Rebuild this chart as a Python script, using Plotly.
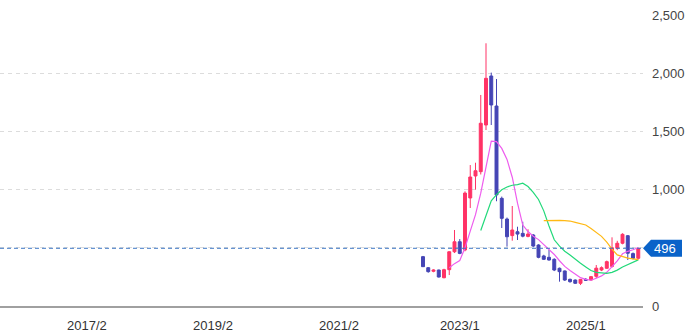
import plotly.graph_objects as go
import pandas as pd

# Monthly candles (2022/6 .. 2025/11)
months = ["2022/6", "2022/7", "2022/8", "2022/9", "2022/10", "2022/11", "2022/12",
          "2023/1", "2023/2", "2023/3", "2023/4", "2023/5", "2023/6", "2023/7", "2023/8",
          "2023/9", "2023/10", "2023/11", "2023/12",
          "2024/1", "2024/2", "2024/3", "2024/4", "2024/5", "2024/6", "2024/7", "2024/8",
          "2024/9", "2024/10", "2024/11", "2024/12",
          "2025/1", "2025/2", "2025/3", "2025/4", "2025/5", "2025/6", "2025/7", "2025/8",
          "2025/9", "2025/10", "2025/11"]
opens  = [424, 329, 298, 309, 243, 312, 466, 552, 481, 928, 1117, 1154, 1555, 1976, 1718,
          925, 747, 605, 638, 624, 598, 610, 524, 430, 418, 401, 324, 301, 229, 223, 195,
          229, 223, 255, 309, 324, 340, 496, 539, 604, 450, 410]
highs  = [430, 335, 315, 312, 320, 470, 653, 575, 985, 1211, 1231, 1813, 2257, 2005, 1950,
          940, 760, 859, 681, 724, 659, 618, 530, 440, 481, 410, 330, 305, 235, 228, 232,
          240, 258, 352, 340, 390, 590, 560, 625, 610, 460, 500]
lows   = [335, 286, 290, 245, 238, 266, 455, 445, 470, 842, 1000, 1130, 1512, 1555, 900,
          670, 510, 561, 567, 590, 590, 505, 410, 395, 390, 300, 209, 215, 200, 190, 180,
          215, 218, 240, 300, 320, 330, 480, 530, 395, 400, 400]
closes = [338, 295, 309, 249, 312, 466, 552, 452, 970, 1108, 1162, 1570, 1956, 1727, 954,
          753, 595, 653, 618, 600, 618, 515, 418, 401, 395, 309, 295, 223, 209, 195, 229,
          221, 252, 325, 329, 381, 500, 539, 616, 453, 410, 496]

tick_labels = ["2017/2", "2019/2", "2021/2", "2023/1", "2025/1"]
y_ticks = [0, 500, 1000, 1500, 2000, 2500]
y_tick_text = ["0", "", "1,000", "1,500", "2,000", "2,500"]

ma_periods = [6, 12, 24]
ma_colors = ["#ee5cee", "#22d97a", "#ffb914"]

UP = "#ff3366"
DOWN = "#4545b5"


def month_index(s):
    y, m = s.split("/")
    return (int(y) - 2023) * 12 + (int(m) - 1)


xs = [month_index(m) for m in months]
close_s = pd.Series(closes, dtype=float)

fig = go.Figure()
fig.add_trace(go.Candlestick(
    x=xs, open=opens, high=highs, low=lows, close=closes,
    increasing=dict(line=dict(color=UP, width=1), fillcolor=UP),
    decreasing=dict(line=dict(color=DOWN, width=1), fillcolor=DOWN),
    whiskerwidth=0, showlegend=False, text=months, hoverinfo="text+y",
))
for p, c in zip(ma_periods, ma_colors):
    ma = close_s.rolling(p).mean()
    fig.add_trace(go.Scatter(x=xs, y=ma, mode="lines",
                             line=dict(color=c, width=1.2),
                             showlegend=False, hoverinfo="skip"))

last = closes[-1]
fig.add_shape(type="line", xref="paper", x0=0, x1=1, yref="y", y0=last, y1=last,
              line=dict(color="#3a74c4", width=1, dash="4px,3px"), layer="above")
fig.add_shape(type="path", xref="paper", xsizemode="pixel", xanchor=1,
              yref="y", ysizemode="pixel", yanchor=last,
              path="M 0 0 L 8 -8.5 L 39 -8.5 L 39 8.5 L 8 8.5 Z",
              fillcolor="#0a63c9", line=dict(width=0), layer="above")
fig.add_annotation(xref="paper", x=1, xanchor="left", xshift=9, yref="y", y=last,
                   text=f"{last:,}", showarrow=False,
                   font=dict(family="Liberation Sans, Arial", size=13, color="white"))

fig.update_layout(
    width=695, height=334,
    margin=dict(l=0, r=52, t=15, b=28),
    paper_bgcolor="white", plot_bgcolor="white",
    boxgap=0.2,
    font=dict(family="Liberation Sans, Arial", size=13, color="#444"),
    xaxis=dict(
        range=[-87.56, 34.9],
        tickvals=[month_index(t) for t in tick_labels], ticktext=tick_labels,
        showgrid=False, zeroline=False, showline=True, linecolor="#a0a0a0", linewidth=2,
        ticks="", ticklabelstandoff=6, rangeslider=dict(visible=False),
        tickfont=dict(color="#333", size=13),
    ),
    yaxis=dict(
        side="right", range=[0, 2500], tickvals=y_ticks, ticktext=y_tick_text,
        showgrid=True, gridcolor="#dcdcdc", griddash="4px,4px", zeroline=False,
        ticks="", ticklabelstandoff=8, tickfont=dict(color="#444", size=13),
    ),
)

fig.write_html("out.html")
